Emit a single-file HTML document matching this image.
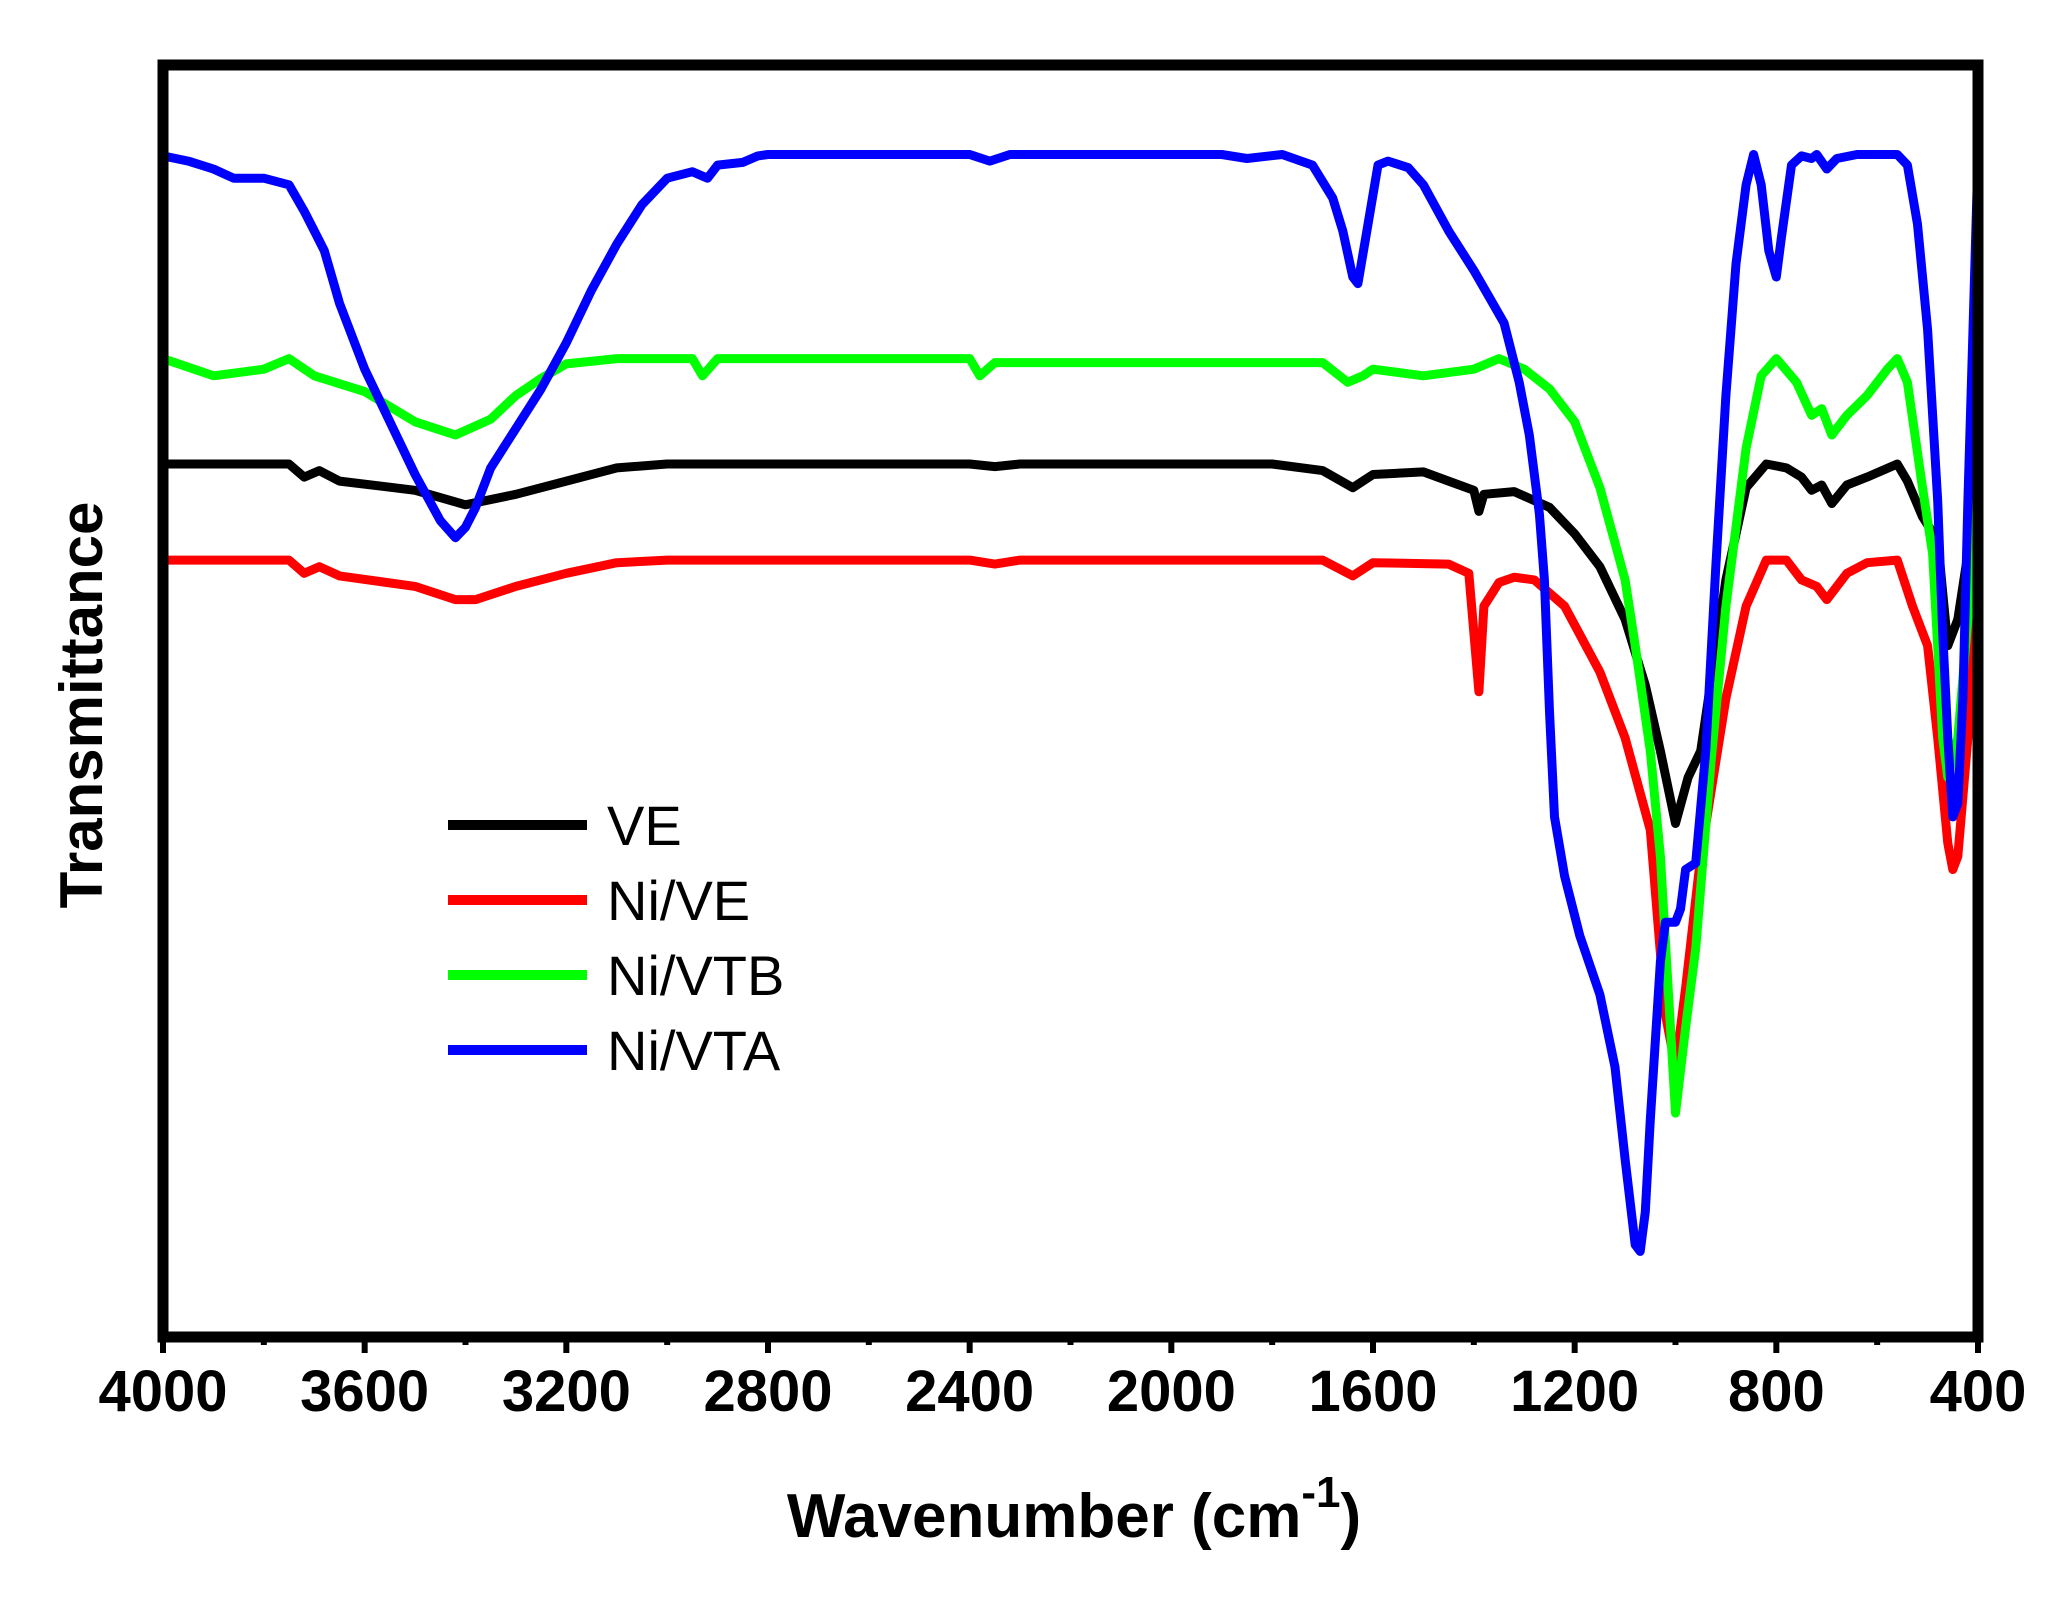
<!DOCTYPE html>
<html><head><meta charset="utf-8"><style>
html,body{margin:0;padding:0;background:#fff;}
svg{display:block;font-family:"Liberation Sans",Arial,sans-serif;}
</style></head><body>
<svg id="chart" width="2056" height="1602" viewBox="0 0 2056 1602">
<g id="series"></g>
<rect x="163" y="65" width="1815" height="1272" fill="none" stroke="#000" stroke-width="11"/>
<g id="xticks"></g>
<text x="1074" y="1537" font-size="62" font-weight="bold" text-anchor="middle">Wavenumber (cm<tspan dy="-30" font-size="44">-1</tspan><tspan dy="30">)</tspan></text>
<text transform="translate(102,705) rotate(-90)" font-size="60" font-weight="bold" text-anchor="middle">Transmittance</text>
<g id="legend"></g>
</svg>
<script>
const xTicks = [4000,3600,3200,2800,2400,2000,1600,1200,800,400];
const seriesNames = ["VE","Ni/VE","Ni/VTB","Ni/VTA"];
const seriesColors = ["#000000","#ff0000","#00ff00","#0000ff"];
const wnVE = [4000,3750,3720,3690,3650,3500,3400,3300,3200,3100,3000,2400,2350,2300,1800,1700,1640,1600,1500,1450,1400,1390,1380,1320,1250,1200,1150,1100,1060,1030,1000,975,950,900,860,820,780,750,730,710,690,660,620,560,540,510,480,460,440,420,400];
const tVE = [663,663,653,658,650,643,632,640,650,660,663,663,661,663,663,658,645,655,657,650,643,627,640,642,630,610,585,545,495,445,390,425,445,575,645,663,660,653,643,647,633,647,653,663,650,623,605,525,545,595,685];
const wnNiVE = [4000,3750,3720,3690,3650,3500,3420,3380,3300,3200,3100,3000,2400,2350,2300,1700,1640,1600,1450,1410,1390,1380,1350,1320,1280,1220,1150,1100,1050,1020,1000,980,950,900,860,820,780,750,720,700,660,620,560,530,500,480,460,450,440,420,400];
const tNiVE = [590,590,580,585,578,570,560,560,570,580,588,590,590,587,590,590,578,588,587,580,490,555,573,577,575,555,505,455,385,245,205,265,365,485,555,590,590,575,570,560,580,588,590,555,525,455,375,355,365,455,590];
const wnNiVTB = [4000,3900,3800,3750,3700,3600,3500,3420,3350,3300,3250,3200,3100,2950,2930,2900,2400,2380,2350,1700,1650,1620,1600,1500,1400,1350,1300,1250,1200,1150,1100,1080,1050,1030,1000,980,960,930,900,860,830,800,760,730,710,690,660,620,580,560,540,510,490,470,460,440,420,400];
const tNiVTB = [743,730,735,743,730,718,695,685,697,715,728,739,743,743,730,743,743,730,740,740,725,730,735,730,735,743,735,720,695,645,575,525,445,365,170,235,295,435,555,675,730,743,725,700,705,685,700,715,735,743,725,645,595,455,425,455,545,675];
const wnNiVTA = [4000,3950,3900,3860,3800,3750,3720,3700,3680,3650,3620,3600,3550,3500,3450,3420,3400,3380,3350,3300,3250,3200,3150,3100,3050,3000,2950,2920,2900,2850,2820,2800,2400,2360,2320,1900,1850,1780,1720,1680,1660,1640,1630,1610,1590,1570,1530,1500,1450,1400,1370,1340,1310,1290,1270,1260,1250,1240,1220,1190,1150,1120,1100,1080,1070,1060,1050,1030,1020,1000,990,980,960,940,920,900,880,860,845,830,815,800,790,770,750,730,720,700,680,640,560,540,520,500,480,470,460,450,440,430,420,410,400];
const tNiVTA = [897,893,887,880,880,875,855,840,825,785,755,735,695,655,620,607,615,630,660,690,720,755,795,830,860,880,885,880,890,892,897,898,898,893,898,898,895,898,890,865,840,805,800,845,890,893,888,875,840,810,790,770,725,685,625,575,475,395,350,305,260,205,135,70,65,95,165,285,315,315,325,355,360,445,585,715,815,875,898,875,825,805,835,890,897,895,898,887,895,898,898,890,845,765,635,535,455,395,405,485,635,765,897];

const NS="http://www.w3.org/2000/svg";
const X0=163,X1=1978,Y0=1337,Y1=65,TMIN=0,TMAX=966;
function xs(w){return X0+(4000-w)/3600*(X1-X0);}
function ys(t){return Y0-(t-TMIN)/(TMAX-TMIN)*(Y0-Y1);}

const sg=document.getElementById('series');
const all=[[wnVE,tVE],[wnNiVE,tNiVE],[wnNiVTB,tNiVTB],[wnNiVTA,tNiVTA]];
const keys=['ve','ni-ve','ni-vtb','ni-vta'];
all.forEach(function(s,i){
  const p=document.createElementNS(NS,'path');
  let d='';
  s[0].forEach(function(w,j){d+=(j?'L':'M')+xs(w).toFixed(1)+','+ys(s[1][j]).toFixed(1);});
  p.setAttribute('d',d);
  p.setAttribute('fill','none');
  p.setAttribute('stroke',seriesColors[i]);
  p.setAttribute('stroke-width','9');
  p.setAttribute('stroke-linejoin','round');
  p.setAttribute('stroke-linecap','round');
  
  
  sg.appendChild(p);
});

const xg=document.getElementById('xticks');
for(let w=4000;w>=400;w-=200){
  const major=(w%400===0);
  const l=document.createElementNS(NS,'line');
  l.setAttribute('x1',xs(w));l.setAttribute('x2',xs(w));
  l.setAttribute('y1',Y0);l.setAttribute('y2',Y0+(major?16:8));
  l.setAttribute('stroke','#000');l.setAttribute('stroke-width','6');
  
  
  xg.appendChild(l);
}
xTicks.forEach(function(w){
  const t=document.createElementNS(NS,'text');
  t.setAttribute('x',xs(w));t.setAttribute('y',1411);
  t.setAttribute('font-size','58');t.setAttribute('font-weight','bold');
  t.setAttribute('text-anchor','middle');
  t.textContent=w;
  
  
  xg.appendChild(t);
});

const lg=document.getElementById('legend');
seriesNames.forEach(function(n,i){
  const y=825+i*75;
  const l=document.createElementNS(NS,'line');
  l.setAttribute('x1',448);l.setAttribute('x2',587);l.setAttribute('y1',y);l.setAttribute('y2',y);
  l.setAttribute('stroke',seriesColors[i]);l.setAttribute('stroke-width','10');
  
  
  lg.appendChild(l);
  const t=document.createElementNS(NS,'text');
  t.setAttribute('x',607);t.setAttribute('y',y+20);
  t.setAttribute('font-size','56');
  t.textContent=n;
  
  
  lg.appendChild(t);
});
</script>
</body></html>
